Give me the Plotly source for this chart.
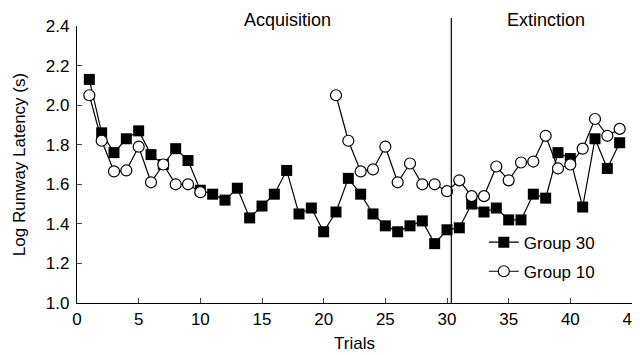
import plotly.graph_objects as go

trials_30 = list(range(1, 45))
group30 = [2.13, 1.86, 1.76, 1.83, 1.87, 1.75, 1.70, 1.78, 1.72, 1.57,
           1.55, 1.52, 1.58, 1.43, 1.49, 1.55, 1.67, 1.45, 1.48, 1.36,
           1.46, 1.63, 1.55, 1.45, 1.39, 1.36, 1.39, 1.415, 1.30, 1.37,
           1.38, 1.50, 1.46, 1.48, 1.42, 1.42, 1.55, 1.53, 1.76, 1.73,
           1.485, 1.83, 1.68, 1.81]

trials_10a = list(range(1, 11))
group10a = [2.05, 1.82, 1.665, 1.67, 1.79, 1.61, 1.70, 1.60, 1.60, 1.56]
trials_10b = list(range(21, 45))
group10b = [2.05, 1.82, 1.665, 1.675, 1.79, 1.61, 1.705, 1.60, 1.60, 1.565,
            1.62, 1.54, 1.54, 1.69, 1.62, 1.71, 1.715, 1.845, 1.68, 1.70,
            1.78, 1.93, 1.845, 1.88]

phase_split = 30.35
phase_labels = ["Acquisition", "Extinction"]
phase_label_x = [17.05, 38.0]
x_ticks = [0, 5, 10, 15, 20, 25, 30, 35, 40, 45]
y_ticks = [1.0, 1.2, 1.4, 1.6, 1.8, 2.0, 2.2, 2.4]

FONT = "Liberation Sans, Arial, sans-serif"
FS = 17

fig = go.Figure()
fig.add_trace(go.Scatter(
    x=trials_30, y=group30, mode="lines+markers", name="Group 30",
    legendgroup="g30",
    line=dict(color="black", width=1.2),
    marker=dict(symbol="square", size=11, color="black"),
))
fig.add_trace(go.Scatter(
    x=trials_10a, y=group10a, mode="lines+markers", name="Group 10",
    legendgroup="g10",
    line=dict(color="black", width=1.2),
    marker=dict(symbol="circle", size=11, color="white",
                line=dict(color="black", width=1.2)),
))
fig.add_trace(go.Scatter(
    x=trials_10b, y=group10b, mode="lines+markers", name="Group 10",
    legendgroup="g10", showlegend=False,
    line=dict(color="black", width=1.2),
    marker=dict(symbol="circle", size=11, color="white",
                line=dict(color="black", width=1.2)),
))

fig.add_shape(type="line", xref="x", yref="paper",
              x0=phase_split, x1=phase_split, y0=0, y1=1.029,
              line=dict(color="black", width=1.2))

for label, lx in zip(phase_labels, phase_label_x):
    fig.add_annotation(x=lx, y=1.0, xref="x", yref="paper",
                       yshift=18, text=label, showarrow=False, yanchor="top",
                       font=dict(size=18, color="black", family=FONT))

fig.update_layout(
    width=632, height=347,
    margin=dict(l=69, r=8, t=18, b=52),
    paper_bgcolor="white", plot_bgcolor="white",
    font=dict(family=FONT, size=FS, color="black"),
    showlegend=True,
    legend=dict(x=0.733, y=0.283, xanchor="left", yanchor="top",
                bgcolor="rgba(0,0,0,0)", font=dict(size=FS),
                itemwidth=30, tracegroupgap=4),
    xaxis=dict(range=[0, 45], tickvals=x_ticks, ticks="inside", ticklen=5,
               showline=True, linecolor="black", linewidth=1.2,
               showgrid=False, zeroline=False, automargin=False,
               ticklabeloverflow="allow",
               tickfont=dict(size=FS),
               title=dict(text="Trials", standoff=9, font=dict(size=FS))),
    yaxis=dict(range=[1.0, 2.4], tickvals=y_ticks, tickformat=".1f",
               ticks="inside", ticklen=5, ticklabelstandoff=3,
               showline=True, linecolor="black", linewidth=1.2,
               showgrid=False, zeroline=False, automargin=False,
               tickfont=dict(size=FS),
               title=dict(text="Log Runway Latency (s)", standoff=15,
                          font=dict(size=FS))),
)

fig.write_html("out.html")
